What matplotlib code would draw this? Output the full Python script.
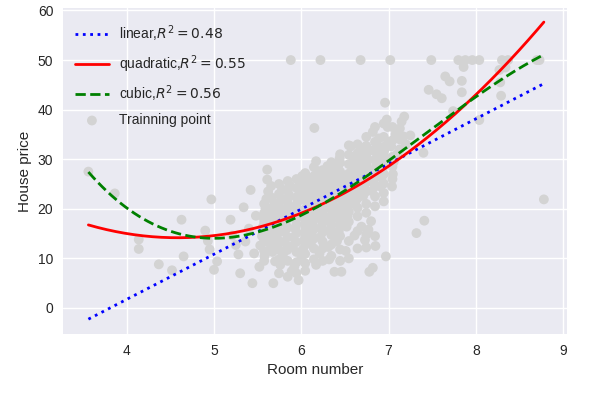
import numpy as np
import matplotlib
matplotlib.use("Agg")
import matplotlib.pyplot as plt

# ---- data ----
rooms = [
    3.561, 3.863, 4.138, 4.138, 4.368, 4.519, 4.628, 4.652, 4.90, 4.93, 4.95, 4.970, 5.000, 5.036,
    5.19, 5.21, 5.25, 5.28, 5.30, 5.34, 5.36, 5.40, 5.42, 5.44, 5.46, 5.48,
    5.52, 5.53, 5.55, 5.56, 5.57, 5.58, 5.59, 5.60,
    5.61, 5.61, 5.62, 5.63, 5.64, 5.65, 5.66, 5.67, 5.68, 5.69, 5.70,
    5.71, 5.72, 5.73, 5.74, 5.75, 5.76, 5.77, 5.78, 5.79,
    5.80, 5.81, 5.82, 5.83, 5.84, 5.85, 5.86, 5.87, 5.88, 5.89,
    5.90, 5.91, 5.92, 5.93, 5.94, 5.95, 5.96, 5.97, 5.98, 5.99,
    6.00, 6.01, 6.02, 6.03, 6.04, 6.05, 6.06, 6.07, 6.08, 6.09, 6.10,
    6.11, 6.12, 6.13, 6.14, 6.15, 6.15, 6.16, 6.17, 6.17, 6.18, 6.19, 6.20, 6.22,
    6.21, 6.22, 6.23, 6.24, 6.25, 6.26, 6.27, 6.28, 6.29, 6.30,
    6.31, 6.32, 6.33, 6.34, 6.35, 6.36, 6.37, 6.38, 6.38, 6.39, 6.40,
    6.41, 6.42, 6.43, 6.44, 6.44, 6.45, 6.46, 6.47, 6.48, 6.49, 6.50,
    6.51, 6.52, 6.53, 6.54, 6.55, 6.56, 6.57, 6.58, 6.59, 6.60,
    6.61, 6.62, 6.63, 6.64, 6.65, 6.66, 6.67, 6.68, 6.69, 6.70,
    6.71, 6.72, 6.73, 6.74, 6.75, 6.76, 6.77, 6.78, 6.79, 6.80,
    6.81, 6.82, 6.82, 6.83, 6.84, 6.85, 6.86, 6.87, 6.88, 6.89,
    6.91, 6.92, 6.93, 6.94, 6.95, 6.96, 6.97, 6.98, 6.99, 7.00,
    7.02, 7.03, 7.04, 7.05, 7.06, 7.08, 7.10,
    7.15, 7.17, 7.18, 7.20, 7.25, 7.32, 7.40, 7.41, 7.46, 7.49,
    7.55, 7.61, 7.65, 7.70, 7.74, 7.80, 7.84, 7.84, 7.86, 7.88, 7.96, 8.04, 8.04,
    8.27, 8.28, 8.29, 8.30, 8.34, 8.37, 8.70, 8.73, 8.78,
]
prices = [
    27.5, 23.1, 13.8, 11.9, 8.8, 7.6, 17.8, 10.4, 15.6, 13.5, 11.8, 21.9, 7.7, 9.4,
    17.8, 14.6, 12.7, 10.8, 7.0, 20.3, 13.4, 16.0, 23.8, 5.0, 11.0, 18.6,
    8.3, 12.6, 14.5, 16.3, 18.1, 10.5, 20.0, 22.0,
    27.9, 25.9, 23.5, 13.2, 15.1, 17.0, 19.0, 11.3, 5.0, 21.2, 9.4,
    12.7, 14.4, 16.4, 18.3, 20.2, 8.7, 22.0, 23.9, 10.8,
    13.3, 15.3, 17.2, 19.1, 11.7, 21.0, 22.8, 24.6, 50.0, 7.4,
    12.4, 14.2, 8.3, 16.0, 17.8, 19.6, 21.4, 5.6, 23.2, 25.1,
    10.0, 26.6, 11.8, 13.6, 15.4, 17.3, 19.1, 20.9, 22.7, 24.4, 26.2,
    13.1, 15.0, 16.9, 18.7, 20.4, 36.3, 22.2, 8.7, 29.6, 24.0, 25.7, 27.5, 50.0,
    11.0, 14.3, 16.3, 18.1, 19.9, 21.7, 23.4, 25.2, 27.0, 28.6,
    12.3, 9.8, 15.8, 17.7, 19.6, 21.4, 23.2, 25.0, 7.3, 26.8, 28.3,
    13.5, 28.5, 15.5, 17.6, 30.2, 19.5, 7.3, 21.3, 23.1, 24.9, 26.6,
    11.5, 16.4, 18.5, 20.5, 22.4, 24.3, 32.6, 26.2, 28.1, 30.0,
    14.6, 21.3, 23.1, 24.9, 26.7, 28.5, 30.3, 50.0, 16.4, 31.6,
    22.6, 24.4, 13.7, 26.2, 28.0, 30.0, 15.8, 7.3, 31.8, 17.5,
    23.6, 35.5, 8.1, 25.4, 27.2, 12.5, 29.0, 30.8, 32.6, 34.2,
    24.5, 26.3, 28.1, 29.9, 31.7, 41.4, 10.4, 38.0, 36.5, 33.5,
    50.0, 32.6, 24.5, 27.0, 29.5, 35.0, 31.0,
    37.6, 34.6, 38.6, 33.0, 34.8, 15.1, 31.3, 17.6, 44.0, 50.0,
    43.1, 42.3, 46.7, 45.7, 39.7, 50.0, 45.8, 43.5, 48.6, 50.0, 50.0, 50.0, 37.9,
    48.0, 45.5, 42.8, 50.0, 48.5, 50.0, 50.0, 50.0, 21.9,
]

# extra points filling the solid core of the cloud
core_rooms = (
    [5.575] * 7 + [5.655] * 7 + [5.745] * 10 + [5.845] * 10 + [5.945] * 11
    + [6.045] * 12 + [6.145] * 11 + [6.245] * 11 + [6.345] * 11 + [6.445] * 12
    + [6.545] * 11 + [6.645] * 11 + [6.745] * 11 + [6.845] * 10 + [6.945] * 9
    + [7.045] * 5 + [7.13] * 3
)
core_prices = [
    9.5, 11.5, 13.5, 15.4, 17.2, 19.1, 21.0,
    12.2, 14.1, 16.0, 18.0, 20.1, 22.3, 24.6,
    7.0, 9.8, 11.7, 13.5, 15.4, 17.3, 19.2, 21.1, 23.0, 25.0,
    6.3, 9.5, 12.5, 14.3, 16.2, 18.1, 20.0, 22.0, 23.8, 25.6,
    7.0, 9.2, 11.3, 13.3, 15.1, 16.9, 18.7, 20.5, 22.3, 24.2, 26.0,
    7.5, 9.0, 10.9, 12.7, 14.5, 16.3, 18.2, 20.0, 21.8, 23.6, 25.3, 27.2,
    9.8, 12.0, 14.0, 15.9, 17.8, 19.6, 21.3, 23.1, 24.9, 26.6, 28.4,
    9.5, 12.0, 13.4, 15.3, 17.2, 19.0, 20.8, 22.6, 24.3, 26.1, 27.8,
    10.5, 12.8, 14.7, 16.7, 18.6, 20.5, 22.3, 24.1, 25.9, 27.6, 29.4,
    9.5, 11.8, 14.5, 16.5, 18.5, 20.4, 22.2, 24.0, 25.8, 27.5, 29.3, 31.0,
    10.0, 13.5, 17.4, 19.4, 21.4, 23.3, 25.2, 27.1, 29.0, 30.9, 32.8,
    12.0, 15.5, 18.5, 20.2, 22.1, 24.0, 25.8, 27.6, 29.4, 31.2, 33.0,
    12.2, 14.8, 19.2, 21.0, 23.5, 25.3, 27.1, 29.0, 30.9, 32.7, 34.5,
    14.5, 20.5, 22.5, 24.5, 26.3, 28.1, 29.9, 31.7, 33.5, 36.5,
    21.5, 23.2, 25.1, 27.0, 28.9, 30.8, 32.5, 34.5, 37.2,
    26.0, 28.5, 30.5, 33.8, 36.5,
    32.0, 34.0, 36.2,
]

# polynomial fit coefficients (highest power first) and R^2 labels
linear_coef = [9.102, -34.671]
quadratic_coef = [2.470, -22.643, 66.059]
cubic_coef = [-0.740, 16.49, -109.4, 241.3]
fit_labels = ["linear,$R^2=0.48$", "quadratic,$R^2=0.55$", "cubic,$R^2=0.56$"]
scatter_label = "Trainning point"

plt.style.use("seaborn-v0_8")
plt.rcParams["font.family"] = ["sans-serif"]
plt.rcParams["font.sans-serif"] = ["Liberation Sans", "DejaVu Sans"]

fig = plt.figure(figsize=(6.11, 3.97), dpi=100)
ax = fig.add_axes([63 / 611, 63 / 397, 504 / 611, 326 / 397])

all_rooms = rooms + core_rooms
all_prices = prices + core_prices

xfit = np.linspace(min(rooms), max(rooms), 200)
ax.plot(xfit, np.polyval(linear_coef, xfit), color="blue", linestyle=":", lw=2, label=fit_labels[0])
ax.plot(xfit, np.polyval(quadratic_coef, xfit), color="red", linestyle="-", lw=2, label=fit_labels[1])
ax.plot(xfit, np.polyval(cubic_coef, xfit), color="green", linestyle="--", lw=2, label=fit_labels[2])
ax.scatter(all_rooms, all_prices, color="lightgray", s=50, edgecolors="none", label=scatter_label)

ax.set_xlim(3.27, 9.045)
ax.set_ylim(-5.25, 60.5)
ax.set_xlabel("Room number")
ax.set_ylabel("House price")
ax.legend(loc="upper left", bbox_to_anchor=(-0.006, 1.0), labelspacing=0.65,
          handlelength=2.4, handletextpad=0.75, fontsize=10, borderaxespad=0.7)

fig.savefig("out.png", dpi=100)
